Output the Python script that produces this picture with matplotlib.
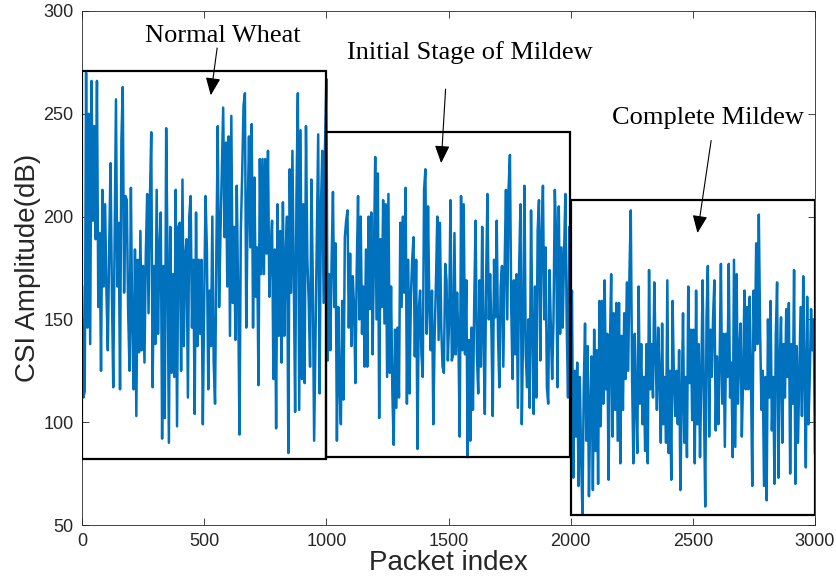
import matplotlib
matplotlib.use("Agg")
import matplotlib.pyplot as plt
from matplotlib import font_manager
from matplotlib.patches import Rectangle
import numpy as np

# CSI amplitude, one list per stage
normal_wheat = [
    166, 112, 115, 270, 146, 250, 138, 266, 198, 244, 189, 266, 156, 192, 125, 213,
    166, 206, 163, 135, 184, 226, 164, 117, 185, 257, 166, 197, 116, 237, 263, 163,
    210, 208, 153, 125, 214, 146, 116, 184, 103, 179, 134, 193, 135, 176, 129, 182,
    211, 153, 208, 241, 117, 176, 138, 213, 143, 185, 202, 92, 176, 102, 243, 179,
    90, 195, 124, 172, 122, 213, 98, 195, 197, 125, 218, 137, 181, 189, 112, 200,
    210, 146, 179, 104, 202, 137, 179, 143,
    179, 99, 159, 210, 184, 116, 164, 137, 200, 129, 109, 185, 244, 156, 192, 223,
    253, 190, 236, 166, 239, 142, 249, 158, 195, 140, 215, 163, 94, 193, 221, 254,
    260, 146, 200, 239, 185, 245, 146, 219, 161, 185, 118, 228, 172, 228, 172, 228,
    182, 232, 161, 184, 198, 121, 184, 97, 206, 142, 193, 129, 207, 142, 181, 200,
    85, 223, 163, 232, 172, 105, 211, 260, 106, 242, 121, 206, 119, 244, 179, 159,
    127, 218, 169, 91, 142, 195, 240, 114, 204, 232, 158, 234, 267,
]
initial_mildew = [
    130, 172, 135, 179, 212, 156, 187, 91, 156, 117, 99, 159, 111, 190, 198, 203,
    146, 182, 137, 171, 156, 119, 174, 210, 150, 200, 143, 166, 127, 184, 127, 200,
    155, 202, 133, 179, 229, 150, 221, 102, 189, 156, 208, 148, 206, 122, 211, 124,
    166, 114, 89, 145, 107, 146, 112, 197, 156, 200, 163, 214, 109, 179, 114, 161,
    179, 190, 132, 179, 87, 155, 164, 133, 122, 213, 223, 143, 205, 156, 135, 164,
    99, 142, 168, 200, 140, 197, 146, 127, 124, 177, 169, 130, 150, 208, 130,
    133, 192, 133, 163, 140, 93, 210, 135, 206, 133, 169, 83, 140, 91, 146, 106,
    159, 198, 133, 114, 169, 127, 195, 142, 104, 171, 211, 150, 172, 145, 103, 179,
    151, 198, 142, 117, 166, 176, 127, 176, 213, 150, 214, 230, 156, 121, 169, 133,
    172, 107, 176, 206, 99, 146, 215, 133, 117, 150, 107, 203, 146, 104, 166, 112,
    193, 208, 130, 190, 215, 150, 185, 117, 109, 174, 146, 121, 150, 213, 190, 117,
    205, 143, 185, 146, 182, 211, 148, 112, 195, 150,
]
complete_mildew = [
    164, 73, 125, 93, 129, 69, 122, 83, 55, 116, 148, 91, 137, 64, 106, 132,
    67, 145, 86, 135, 70, 159, 98, 159, 109, 169, 116, 143, 72, 135, 172, 93,
    153, 106, 158, 91, 158, 80, 142, 106, 153, 121, 168, 125, 172, 203, 122, 80,
    143, 109, 85, 166, 109, 138, 99, 122, 86, 138, 80, 174, 116, 138, 112, 168,
    135, 106, 146, 122, 90, 148, 99, 122, 90, 169, 85, 125, 72, 159, 122, 103,
    125, 99, 135, 67, 112, 153, 90, 122, 83, 166, 119, 145, 101,
    145, 80, 164, 99, 138, 83, 122, 169, 109, 59, 151, 176, 93, 145, 122, 151,
    169, 96, 132, 99, 129, 177, 109, 143, 88, 143, 122, 177, 112, 129, 83, 179,
    88, 172, 109, 134, 148, 93, 122, 164, 116, 156, 116, 161, 122, 69, 164, 135,
    187, 138, 201, 145, 106, 125, 69, 122, 62, 150, 112, 159, 96, 122, 70, 142,
    168, 73, 129, 151, 90, 138, 112, 155, 122, 158, 75, 138, 109, 174, 70, 137,
    90, 122, 156, 103, 171, 122, 78, 161, 99, 122, 155, 135, 150, 85,
]

stage_ranges = [(0, 1000), (1000, 2000), (2000, 3000)]
# (x0, x1, y_bottom, y_top) for the black boxes
stage_boxes = [(0, 1000, 82, 271), (1000, 1997, 83, 241), (2001, 3000, 55, 208)]
stage_labels = ["Normal Wheat", "Initial Stage of Mildew", "Complete Mildew"]
label_pos = [(577, 288), (1586, 280), (2560, 248)]
arrow_tail = [(553, 282), (1488, 262), (2575, 237)]
arrow_head = [(527, 259), (1470, 226), (2519, 192)]

xticks = [0, 500, 1000, 1500, 2000, 2500, 3000]
yticks = [50, 100, 150, 200, 250, 300]

names = {f.name for f in font_manager.fontManager.ttflist}
sans = "Liberation Sans Narrow" if "Liberation Sans Narrow" in names else "Liberation Sans"
plt.rcParams["font.family"] = [sans, "DejaVu Sans"]

fg = "#262626"
fig = plt.figure(figsize=(8.37, 5.87), dpi=100)
ax = fig.add_axes([0.098, 0.1056, 0.8757, 0.8757])

xs = []
for i, (vals, (a, b)) in enumerate(zip([normal_wheat, initial_mildew, complete_mildew], stage_ranges)):
    x = np.linspace(a, b, len(vals) + (0 if i == 0 else 1))
    xs.append(x if i == 0 else x[1:])
x_all = np.concatenate(xs)
y_all = np.concatenate([normal_wheat, initial_mildew, complete_mildew])
ax.plot(x_all, y_all, color="#0072BD", lw=1.8, zorder=2)

for x0, x1, y0, y1 in stage_boxes:
    ax.add_patch(Rectangle((x0, y0), x1 - x0, y1 - y0, fill=False, ec="black", lw=1.6, zorder=3))

for lab, (tx, ty), tail, head in zip(stage_labels, label_pos, arrow_tail, arrow_head):
    ax.text(tx, ty, lab, ha="center", va="center", fontsize=19,
            family=["Liberation Serif", "DejaVu Serif"], color="black")
    ax.annotate("", xy=head, xytext=tail,
                arrowprops=dict(arrowstyle="-|>,head_length=0.9,head_width=0.38",
                                mutation_scale=12, color="black", lw=0.8,
                                shrinkA=0, shrinkB=0))

ax.set_xlim(0, 3000)
ax.set_ylim(50, 300)
ax.set_xticks(xticks)
ax.set_yticks(yticks)
ax.tick_params(direction="in", length=5, width=0.6, top=True, right=True,
               color=fg, labelcolor=fg, labelsize=13, pad=6)
for s in ax.spines.values():
    s.set_color(fg)
    s.set_linewidth(0.6)
ax.set_xlabel("Packet index", fontsize=20, color=fg, labelpad=0)
ax.set_ylabel("CSI Amplitude(dB)", fontsize=20, color=fg, labelpad=2)

fig.savefig("out.png", dpi=100)
